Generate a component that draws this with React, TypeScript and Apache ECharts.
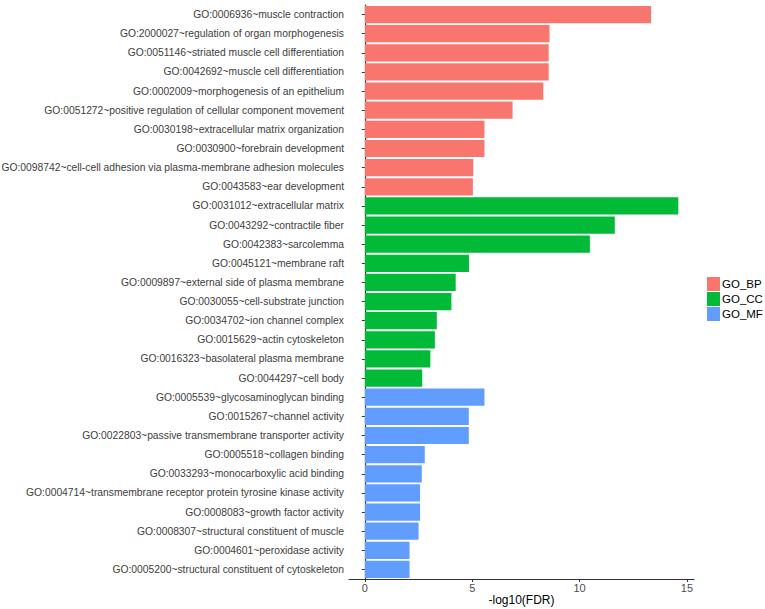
import React, { useEffect, useRef } from "react";
import * as echarts from "echarts";

const bpTerms = [
  "GO:0006936~muscle contraction",
  "GO:2000027~regulation of organ morphogenesis",
  "GO:0051146~striated muscle cell differentiation",
  "GO:0042692~muscle cell differentiation",
  "GO:0002009~morphogenesis of an epithelium",
  "GO:0051272~positive regulation of cellular component movement",
  "GO:0030198~extracellular matrix organization",
  "GO:0030900~forebrain development",
  "GO:0098742~cell-cell adhesion via plasma-membrane adhesion molecules",
  "GO:0043583~ear development",
];
const bpValues = [13.33, 8.6, 8.56, 8.56, 8.31, 6.88, 5.57, 5.57, 5.05, 5.03];

const ccTerms = [
  "GO:0031012~extracellular matrix",
  "GO:0043292~contractile fiber",
  "GO:0042383~sarcolemma",
  "GO:0045121~membrane raft",
  "GO:0009897~external side of plasma membrane",
  "GO:0030055~cell-substrate junction",
  "GO:0034702~ion channel complex",
  "GO:0015629~actin cytoskeleton",
  "GO:0016323~basolateral plasma membrane",
  "GO:0044297~cell body",
];
const ccValues = [14.6, 11.64, 10.48, 4.85, 4.23, 4.03, 3.35, 3.26, 3.05, 2.67];

const mfTerms = [
  "GO:0005539~glycosaminoglycan binding",
  "GO:0015267~channel activity",
  "GO:0022803~passive transmembrane transporter activity",
  "GO:0005518~collagen binding",
  "GO:0033293~monocarboxylic acid binding",
  "GO:0004714~transmembrane receptor protein tyrosine kinase activity",
  "GO:0008083~growth factor activity",
  "GO:0008307~structural constituent of muscle",
  "GO:0004601~peroxidase activity",
  "GO:0005200~structural constituent of cytoskeleton",
];
const mfValues = [5.57, 4.84, 4.84, 2.79, 2.65, 2.57, 2.57, 2.5, 2.08, 2.08];

const groupNames = ["GO_BP", "GO_CC", "GO_MF"];
const groupColors = ["#F8766D", "#00BA38", "#619CFF"];
const xTicks = [0, 5, 10, 15];

export default function App() {
  const ref = useRef<HTMLDivElement>(null);
  useEffect(() => {
    document.body.style.margin = "0";
    if (!ref.current) return;
    const chart = echarts.init(ref.current, null, { renderer: "svg" });
    const categories = [...bpTerms, ...ccTerms, ...mfTerms];
    const groups = [
      { terms: bpTerms, values: bpValues },
      { terms: ccTerms, values: ccValues },
      { terms: mfTerms, values: mfValues },
    ];
    const series = groups.map((g, gi) => ({
      name: groupNames[gi],
      type: "bar",
      stack: "all",
      barWidth: "90%",
      itemStyle: { color: groupColors[gi] },
      data: categories.map((c) => {
        const idx = g.terms.indexOf(c);
        return idx >= 0 ? g.values[idx] : "-";
      }),
    }));
    chart.setOption({
      animation: false,
      textStyle: { fontFamily: "Liberation Sans, Arial, sans-serif" },
      grid: {
        left: 349,
        right: 71,
        top: 5,
        bottom: 30,
        containLabel: false,
        outerBoundsMode: "none",
      },
      legend: {
        orient: "vertical",
        left: 707,
        top: 277,
        padding: 0,
        itemWidth: 13,
        itemHeight: 14,
        itemGap: 1,
        icon: "rect",
        textStyle: { fontSize: 11.5, color: "#000", padding: [0, 0, 0, -3] },
        data: groupNames,
      },
      xAxis: {
        type: "value",
        min: -0.74,
        max: 15.33,
        name: "-log10(FDR)",
        nameLocation: "middle",
        nameGap: 15,
        nameMoveOverlap: false,
        nameTextStyle: { fontSize: 12, color: "#000", verticalAlign: "top" },
        splitLine: { show: false },
        axisLine: { show: true, lineStyle: { color: "#333", width: 1.2 } },
        axisTick: {
          show: true,
          length: 3,
          customValues: xTicks,
          lineStyle: { color: "#333" },
        },
        axisLabel: {
          customValues: xTicks,
          fontSize: 11,
          color: "#4d4d4d",
          margin: 3,
        },
      },
      yAxis: {
        type: "category",
        inverse: true,
        data: categories,
        axisLine: { show: true, lineStyle: { color: "#333", width: 1.2 } },
        axisTick: {
          show: true,
          length: 3,
          alignWithLabel: true,
          lineStyle: { color: "#333" },
        },
        axisLabel: { fontSize: 10.3, color: "#3d3d3d", margin: 5, interval: 0 },
      },
      series,
    });
    return () => chart.dispose();
  }, []);
  return <div ref={ref} style={{ width: 765, height: 609 }} />;
}
